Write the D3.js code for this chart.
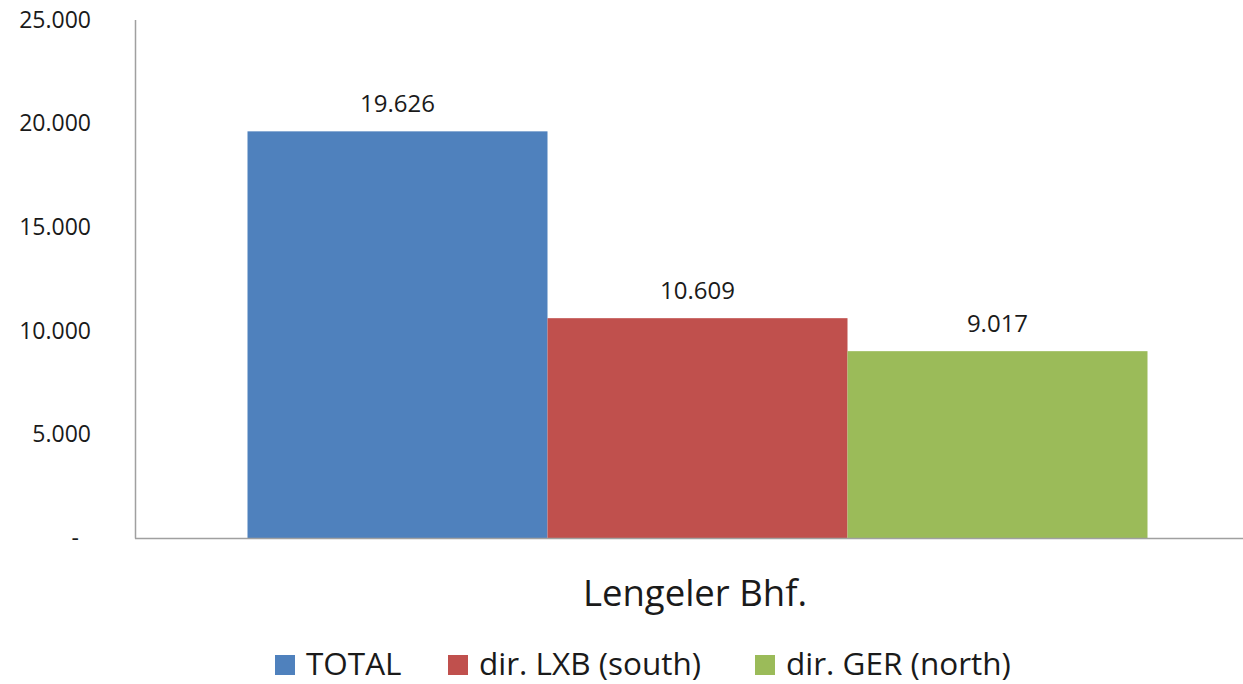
<!DOCTYPE html>
<html><head><meta charset="utf-8">
<script src="https://cdn.jsdelivr.net/npm/d3@7"></script>
<style>body{margin:0;background:#fff}svg{display:block}text{font-family:"Open Sans",sans-serif;fill:#1a1a1a}</style>
</head><body><svg id="c" width="1243" height="684"></svg>
<script>
const categories = ["Lengeler Bhf."];
const seriesNames = ["TOTAL", "dir. LXB (south)", "dir. GER (north)"];
const seriesValues = [19626, 10609, 9017];
const seriesColors = ["#4F81BD", "#C0504D", "#9BBB59"];
const yTicks = [0, 5000, 10000, 15000, 20000, 25000];

const svg = d3.select("#c");
const fmt = v => v === 0 ? "-" : d3.format(",")(v).replace(/,/g, ".");

const y = d3.scaleLinear().domain([0, 25000]).range([538, 20]);
const x0 = d3.scaleBand().domain(categories).range([135, 1260]).paddingInner(0).paddingOuter(0.125);
const x1 = d3.scaleBand().domain(seriesNames).range([0, x0.bandwidth()]).padding(0);

// y axis labels
const yAxis = d3.axisLeft(y).tickValues(yTicks).tickSize(0).tickPadding(44).tickFormat(fmt);
const ga = svg.append("g").attr("transform", "translate(135,0)").call(yAxis);
ga.select(".domain").remove();
ga.selectAll("text").style("font-size", "23px").attr("font-family", null).attr("fill", "#1a1a1a");
ga.selectAll(".tick").filter(d => d === 0).select("text").attr("dx", -12);

// bars
const g = svg.append("g");
categories.forEach(cat => {
  seriesNames.forEach((s, i) => {
    g.append("rect")
      .attr("x", x0(cat) + x1(s))
      .attr("y", y(seriesValues[i]))
      .attr("width", x1.bandwidth())
      .attr("height", y(0) - y(seriesValues[i]))
      .attr("fill", seriesColors[i]);
    g.append("text")
      .attr("x", x0(cat) + x1(s) + x1.bandwidth() / 2)
      .attr("y", y(seriesValues[i]) - 19)
      .attr("text-anchor", "middle")
      .style("font-size", "24px")
      .text(fmt(seriesValues[i]));
  });
});

// axis lines
svg.append("line").attr("x1", 135.5).attr("x2", 135.5).attr("y1", 20).attr("y2", 538.5).attr("stroke", "#a0a0a0").attr("stroke-width", 1.5);
svg.append("line").attr("x1", 135).attr("x2", 1243).attr("y1", 538.5).attr("y2", 538.5).attr("stroke", "#a0a0a0").attr("stroke-width", 1.5);

// category label
svg.append("text").attr("x", 695).attr("y", 606)
  .attr("text-anchor", "middle").style("font-size", "36.5px").text(categories[0]);

// legend
const legendX = [275, 448, 755];
const lg = svg.append("g");
seriesNames.forEach((s, i) => {
  lg.append("rect").attr("x", legendX[i]).attr("y", 655).attr("width", 20).attr("height", 20).attr("fill", seriesColors[i]);
  lg.append("text").attr("x", legendX[i] + 31).attr("y", 675).style("font-size", "31.5px").text(s);
});
</script></body></html>
